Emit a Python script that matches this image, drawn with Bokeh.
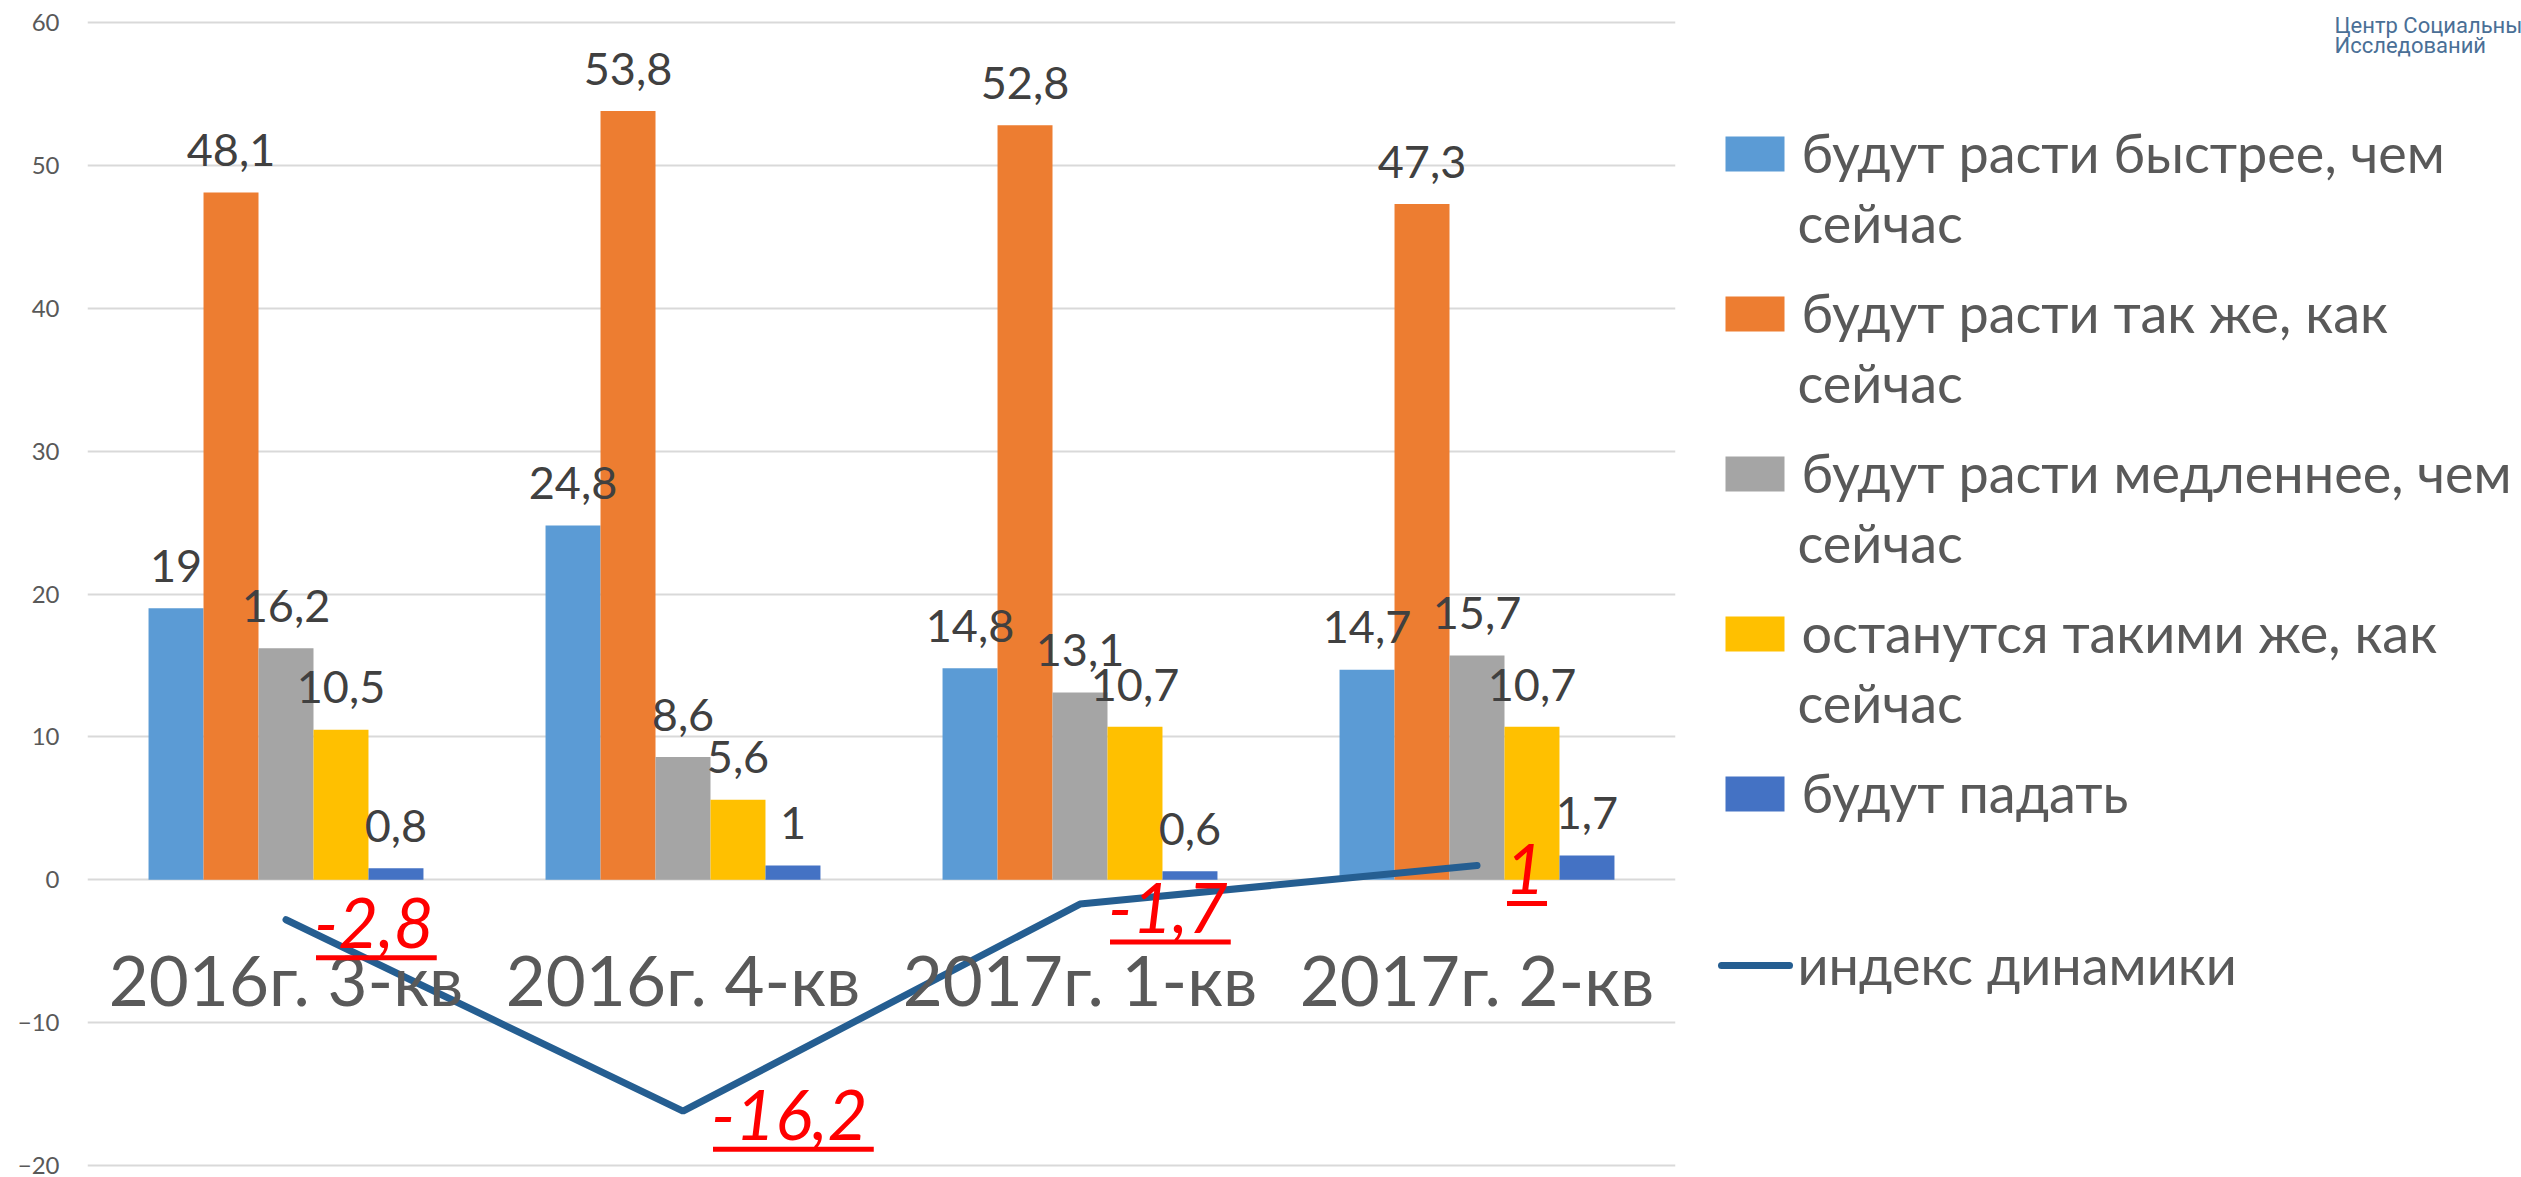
import numpy as np
from bokeh.plotting import figure
from bokeh.layouts import row
from bokeh.models import Range1d, FixedTicker
from bokeh.core.properties import value
from bokeh.embed import file_html
from bokeh.resources import INLINE

# ---------------- data ----------------
categories = ["2016г. 3-кв", "2016г. 4-кв", "2017г. 1-кв", "2017г. 2-кв"]
series_names = [
    "будут расти быстрее, чем сейчас",
    "будут расти так же, как сейчас",
    "будут расти медленнее, чем сейчас",
    "останутся такими же, как сейчас",
    "будут падать",
]
faster = [19, 24.8, 14.8, 14.7]
same_growth = [48.1, 53.8, 52.8, 47.3]
slower = [16.2, 8.6, 13.1, 15.7]
unchanged = [10.5, 5.6, 10.7, 10.7]
falling = [0.8, 1, 0.6, 1.7]
index_name = "индекс динамики"
index_values = [-2.8, -16.2, -1.7, 1]
y_ticks = [-20, -10, 0, 10, 20, 30, 40, 50, 60]
logo_lines = ["Центр Социальных", "Исследований"]

series = [faster, same_growth, slower, unchanged, falling]
colors = ["#5B9BD5", "#ED7D31", "#A5A5A5", "#FFC000", "#4472C4"]
line_color = "#255E91"

def fmt(v):
    return f"{v:g}".replace(".", ",")

# baseline correction (text renders lower than the alphabetic anchor)
BC = 0.34

# ---------------- geometry ----------------
W1, W2, H = 1698, 823, 1177
LEFT, RIGHT = 87, 23
Y0, Y1 = -20.84, 61.54
ppu_x = (W1 - LEFT - RIGHT) / len(categories)
ppu_y = H / (Y1 - Y0)

p = figure(width=W1, height=H, x_range=Range1d(0, len(categories)), y_range=Range1d(Y0, Y1),
           output_backend="svg", toolbar_location=None, x_axis_location=None,
           min_border_left=LEFT, min_border_right=RIGHT, min_border_top=0, min_border_bottom=0)
p.outline_line_color = None
p.background_fill_color = "white"
p.border_fill_color = "white"
p.xgrid.visible = False
p.ygrid.ticker = FixedTicker(ticks=y_ticks)
p.ygrid.grid_line_color = "#D9D9D9"
p.ygrid.grid_line_width = 2
ax = p.yaxis[0]
ax.ticker = FixedTicker(ticks=y_ticks)
ax.axis_line_color = None
ax.major_tick_line_color = None
ax.minor_tick_line_color = None
ax.major_tick_out = 0
ax.major_tick_in = 0
ax.major_label_standoff = 28
ax.major_label_text_font = "Lato"
ax.major_label_text_font_size = "24px"
ax.major_label_text_color = "#595959"

centers = np.arange(len(categories)) + 0.5
bar_w = 0.1385

for j, (vals, col) in enumerate(zip(series, colors)):
    xs = centers + (j - 2) * bar_w
    p.vbar(x=xs, top=vals, bottom=0, width=bar_w, fill_color=col, line_color=None)

p.line(x=centers, y=index_values, line_color=line_color, line_width=7, line_cap="round")

BAR_FS = 45
for j, vals in enumerate(series):
    xs = centers + (j - 2) * bar_w
    p.text(x=xs, y=vals, text=[fmt(v) for v in vals], text_align="center",
           text_baseline="alphabetic", y_offset=-27 - BC * BAR_FS, text_font=value("Lato"),
           text_font_size=value(f"{BAR_FS}px"), text_color="#404040")

CAT_FS = 69
p.text(x=centers, y=[0] * len(categories), text=categories, text_align="center",
       text_baseline="alphabetic", y_offset=123 - BC * CAT_FS, text_font=value("Lato"),
       text_font_size=value(f"{CAT_FS}px"), text_color="#595959")

# red index labels with underline
RED_FS = 69
char_w = {"-": 0.36, ",": 0.23}
idx_texts = [fmt(v) for v in index_values]
p.text(x=centers, y=index_values, text=idx_texts, text_align="left",
       text_baseline="alphabetic", x_offset=28, y_offset=27 - BC * RED_FS, text_font=value("Lato"),
       text_font_style="italic", text_font_size=value(f"{RED_FS}px"), text_color="#FF0000")
widths = [sum(char_w.get(c, 0.58) for c in t) * RED_FS for t in idx_texts]
ux0 = centers + 30 / ppu_x
ux1 = ux0 + np.array(widths) / ppu_x
uy = np.array(index_values) - 38 / ppu_y
p.segment(x0=ux0, x1=ux1, y0=uy, y1=uy, line_color="#FF0000", line_width=5)

# ---------------- legend panel ----------------
q = figure(width=W2, height=H, x_range=Range1d(0, W2), y_range=Range1d(H, 0),
           output_backend="svg", toolbar_location=None, x_axis_location=None,
           y_axis_location=None, min_border=0)
q.outline_line_color = None
for g in q.grid:
    g.visible = False

LEG_FS = 54
lc = BC * LEG_FS
base1 = 170
step = 160
gap = 70
for k, (name, col) in enumerate(zip(series_names, colors)):
    b = base1 + k * step
    q.quad(left=[27], right=[86], top=[b - 34], bottom=[b + 1], fill_color=col, line_color=None)
    if name.endswith("сейчас"):
        l1, l2 = name.rsplit(" ", 1)
        lines = [l1, l2]
    else:
        lines = [name]
    for m, t in enumerate(lines):
        q.text(x=[103 if m == 0 else 99], y=[b + m * gap - lc], text=[t], text_align="left",
               text_baseline="alphabetic", text_font=value("Lato"),
               text_font_size=value(f"{LEG_FS}px"), text_color="#595959")

q.line(x=[23, 91], y=[965, 965], line_color=line_color, line_width=7, line_cap="round")
q.text(x=[99], y=[982 - lc], text=[index_name], text_align="left", text_baseline="alphabetic",
       text_font=value("Lato"), text_font_size=value(f"{LEG_FS}px"), text_color="#595959")

LOGO_FS = 22
q.text(x=[636, 636], y=[32 - BC * LOGO_FS, 52 - BC * LOGO_FS], text=logo_lines, text_align="left",
       text_baseline="alphabetic", text_font=value("Roboto"),
       text_font_size=value(f"{LOGO_FS}px"), text_color="#4A6F96")

layout = row(p, q)
open("out.html", "w").write(file_html(layout, INLINE))
